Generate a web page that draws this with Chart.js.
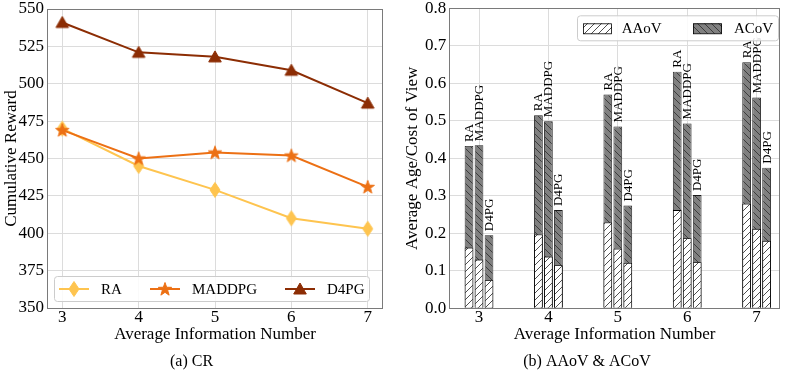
<!DOCTYPE html>
<html><head><meta charset="utf-8">
<script src="https://cdn.jsdelivr.net/npm/chart.js@4/dist/chart.umd.min.js"></script>
<style>
html,body{margin:0;padding:0;background:#fff;width:789px;height:373px;overflow:hidden}
canvas{position:absolute;top:0}
#c1{left:0}
#c2{left:394px}
</style></head><body>
<canvas id="c1" width="394" height="373"></canvas>
<canvas id="c2" width="395" height="373"></canvas>
<script>
// ---------- data ----------
const infoNumbers = [3, 4, 5, 6, 7];
const methods = ['RA', 'MADDPG', 'D4PG'];

const rewardRA     = [470, 445, 429, 410, 403];
const rewardMADDPG = [469, 450, 454, 452, 431];
const rewardD4PG   = [541, 521, 518, 509, 487];

const aaovRA     = [0.162, 0.197, 0.229, 0.262, 0.279];
const aaovMADDPG = [0.130, 0.138, 0.159, 0.187, 0.212];
const aaovD4PG   = [0.075, 0.115, 0.121, 0.123, 0.180];

const acovRA     = [0.433, 0.515, 0.570, 0.631, 0.656];
const acovMADDPG = [0.435, 0.499, 0.485, 0.493, 0.562];
const acovD4PG   = [0.195, 0.262, 0.274, 0.302, 0.375];

const rewardTicks = [350, 375, 400, 425, 450, 475, 500, 525, 550];
const ratioTicks  = [0.0, 0.1, 0.2, 0.3, 0.4, 0.5, 0.6, 0.7, 0.8];

// ---------- styles ----------
const FONT = "'Liberation Serif', 'DejaVu Serif', serif";
Chart.defaults.font.family = FONT;
Chart.defaults.color = '#000';
const F = (size) => ({ family: FONT, size: size, weight: 'normal' });
const lineColors = { RA: '#fec44f', MADDPG: '#ec7014', D4PG: '#8c2d04' };
const GRID = '#dcdcdc';
const SPINE = '#7a7a7a';

function makeMarker(shape, color) {
  const c = document.createElement('canvas');
  const s = 18; c.width = s; c.height = s;
  const g = c.getContext('2d');
  g.fillStyle = color; g.strokeStyle = color; g.lineWidth = 1;
  const cx = s / 2, cy = s / 2;
  g.beginPath();
  if (shape === 'diamond') {
    g.moveTo(cx, cy - 7.5); g.lineTo(cx + 5, cy); g.lineTo(cx, cy + 7.5); g.lineTo(cx - 5, cy);
  } else if (shape === 'star') {
    for (let k = 0; k < 10; k++) {
      const r = k % 2 === 0 ? 7 : 2.8;
      const ang = -Math.PI / 2 + k * Math.PI / 5;
      const px = cx + r * Math.cos(ang), py = cy + 0.5 + r * Math.sin(ang);
      k === 0 ? g.moveTo(px, py) : g.lineTo(px, py);
    }
  } else {
    g.moveTo(cx, cy - 6); g.lineTo(cx + 6.3, cy + 5); g.lineTo(cx - 6.3, cy + 5);
  }
  g.closePath(); g.fill(); g.stroke();
  return c;
}
const markers = {
  RA: makeMarker('diamond', lineColors.RA),
  MADDPG: makeMarker('star', lineColors.MADDPG),
  D4PG: makeMarker('triangle', lineColors.D4PG)
};

function hatch(bg, lineColor, dir, size, lw) {
  const c = document.createElement('canvas'); c.width = size; c.height = size;
  const g = c.getContext('2d');
  g.fillStyle = bg; g.fillRect(0, 0, size, size);
  g.strokeStyle = lineColor; g.lineWidth = lw;
  g.beginPath();
  if (dir === '/') {
    g.moveTo(-1, size + 1); g.lineTo(size + 1, -1);
    g.moveTo(-2, 2); g.lineTo(2, -2);
    g.moveTo(size - 2, size + 2); g.lineTo(size + 2, size - 2);
  } else {
    g.moveTo(-1, -1); g.lineTo(size + 1, size + 1);
    g.moveTo(size - 2, -2); g.lineTo(size + 2, 2);
    g.moveTo(-2, size - 2); g.lineTo(2, size + 2);
  }
  g.stroke();
  return g.createPattern(c, 'repeat');
}
const aaovFill = hatch('#ffffff', '#222222', '/', 7, 0.8);
const acovFill = hatch('#808080', '#2b2b2b', '\\', 7, 0.8);

const framePlugin = {
  id: 'frame',
  afterDraw(chart) {
    const { ctx, chartArea: a } = chart;
    ctx.save();
    ctx.strokeStyle = SPINE; ctx.lineWidth = 1;
    ctx.strokeRect(Math.round(a.left) + 0.5, Math.round(a.top) + 0.5,
      Math.round(a.right - a.left) - 1, Math.round(a.bottom - a.top));
    ctx.restore();
  }
};

function roundBox(ctx, x, y, w, h, r) {
  ctx.beginPath();
  ctx.moveTo(x + r, y); ctx.lineTo(x + w - r, y); ctx.quadraticCurveTo(x + w, y, x + w, y + r);
  ctx.lineTo(x + w, y + h - r); ctx.quadraticCurveTo(x + w, y + h, x + w - r, y + h);
  ctx.lineTo(x + r, y + h); ctx.quadraticCurveTo(x, y + h, x, y + h - r);
  ctx.lineTo(x, y + r); ctx.quadraticCurveTo(x, y, x + r, y);
  ctx.closePath();
}

const legendLeft = {
  id: 'legendLeft',
  afterDraw(chart) {
    const { ctx, chartArea: a } = chart;
    const x0 = a.left + 7, y0 = a.bottom - 32, w = 315, h = 25;
    ctx.save();
    roundBox(ctx, x0 + 0.5, y0 + 0.5, w, h, 3);
    ctx.fillStyle = 'rgba(255,255,255,0.85)'; ctx.fill();
    ctx.strokeStyle = '#cccccc'; ctx.lineWidth = 1; ctx.stroke();
    const cy = y0 + h / 2 + 0.5;
    const offs = [5, 96, 231];
    chart.data.datasets.forEach((ds, i) => {
      const lx = x0 + offs[i];
      ctx.strokeStyle = ds.borderColor; ctx.lineWidth = 2;
      ctx.beginPath(); ctx.moveTo(lx, cy); ctx.lineTo(lx + 30, cy); ctx.stroke();
      const m = ds.pointStyle;
      ctx.drawImage(m, lx + 15 - m.width / 2, cy - m.height / 2);
      ctx.fillStyle = '#000'; ctx.font = '15px ' + FONT;
      ctx.textAlign = 'left'; ctx.textBaseline = 'middle';
      ctx.fillText(ds.label, lx + 42, cy + 1);
    });
    ctx.restore();
  }
};

const legendRight = {
  id: 'legendRight',
  afterDraw(chart) {
    const { ctx, chartArea: a } = chart;
    const x0 = a.right - 203, y0 = a.top + 7, w = 201, h = 25;
    ctx.save();
    roundBox(ctx, x0 + 0.5, y0 + 0.5, w, h, 3);
    ctx.fillStyle = 'rgba(255,255,255,0.85)'; ctx.fill();
    ctx.strokeStyle = '#cccccc'; ctx.lineWidth = 1; ctx.stroke();
    const cy = y0 + h / 2 + 0.5;
    const items = [['AAoV', aaovFill, 6, 44.7], ['ACoV', acovFill, 116, 157]];
    items.forEach(([name, fill, px, tx]) => {
      ctx.fillStyle = fill;
      ctx.fillRect(x0 + px, cy - 5, 29, 10.5);
      ctx.strokeStyle = '#000'; ctx.lineWidth = 0.8;
      ctx.strokeRect(x0 + px + 0.5, cy - 5 + 0.5, 28, 10);
      ctx.fillStyle = '#000'; ctx.font = '15px ' + FONT;
      ctx.textAlign = 'left'; ctx.textBaseline = 'middle';
      ctx.fillText(name, x0 + tx, cy + 1);
    });
    ctx.restore();
  }
};

const barLabels = {
  id: 'barLabels',
  afterDatasetsDraw(chart) {
    const { ctx, chartArea: a } = chart;
    ctx.save();
    ctx.beginPath(); ctx.rect(a.left, a.top, a.right - a.left, a.bottom - a.top); ctx.clip();
    ctx.fillStyle = '#000'; ctx.font = '13px ' + FONT;
    chart.data.datasets.forEach((ds, i) => {
      if (ds.kind !== 'ACoV') return;
      chart.getDatasetMeta(i).data.forEach(el => {
        ctx.save();
        ctx.translate(el.x, el.y - 4);
        ctx.rotate(-Math.PI / 2);
        ctx.textAlign = 'left'; ctx.textBaseline = 'middle';
        ctx.fillText(ds.stack, 0, 0.5);
        ctx.restore();
      });
    });
    ctx.restore();
  }
};

function pts(ys) { return infoNumbers.map((x, i) => ({ x, y: ys[i] })); }

// ---------- left: Cumulative Reward ----------
const rewards = { RA: rewardRA, MADDPG: rewardMADDPG, D4PG: rewardD4PG };
new Chart(document.getElementById('c1'), {
  type: 'line',
  data: {
    datasets: methods.map((m, i) => ({
      label: m,
      data: pts(rewards[m]),
      borderColor: lineColors[m],
      backgroundColor: lineColors[m],
      borderWidth: 2,
      pointStyle: markers[m],
      pointRadius: 7,
      tension: 0,
      order: 2 - i
    }))
  },
  options: {
    responsive: false, animation: false, devicePixelRatio: 1,
    font: { family: FONT },
    layout: { padding: { top: 7.5, right: 11, left: 0, bottom: 0 } },
    plugins: {
      legend: { display: false }, tooltip: { enabled: false },
      title: { display: true, position: 'bottom', text: '(a) CR', color: '#000',
        font: F(16), padding: { top: 0, bottom: 2 } }
    },
    scales: {
      x: {
        type: 'linear', min: 2.8, max: 7.2, offset: false,
        afterBuildTicks: s => { s.ticks = infoNumbers.map(v => ({ value: v })); },
        afterFit: s => { s.height = 43.8; s.paddingLeft = 0; s.paddingRight = 0; },
        ticks: { font: F(17), padding: -1, color: '#000' },
        grid: { color: GRID, drawTicks: false, offset: false },
        border: { display: false },
        title: { display: true, text: 'Average Information Number', color: '#000',
          font: F(17), padding: { top: 0, bottom: 6.8 } }
      },
      y: {
        min: 350, max: 550,
        afterBuildTicks: s => { s.ticks = rewardTicks.map(v => ({ value: v })); },
        afterFit: s => { s.width = 47; s.paddingTop = 0; s.paddingBottom = 0; },
        ticks: { font: F(17), padding: 3, color: '#000' },
        grid: { color: GRID, drawTicks: false },
        border: { display: false },
        title: { display: true, text: 'Cumulative Reward', color: '#000',
          font: F(17), padding: { top: 1, bottom: 0 } }
      }
    }
  },
  plugins: [framePlugin, legendLeft]
});

// ---------- right: AAoV & ACoV ----------
const aaov = { RA: aaovRA, MADDPG: aaovMADDPG, D4PG: aaovD4PG };
const acov = { RA: acovRA, MADDPG: acovMADDPG, D4PG: acovD4PG };
const barSets = [];
methods.forEach(m => {
  barSets.push({ label: 'AAoV', kind: 'AAoV', stack: m, data: pts(aaov[m]),
    backgroundColor: aaovFill, borderColor: '#000', borderWidth: 0.9 });
  barSets.push({ label: 'ACoV', kind: 'ACoV', stack: m, data: pts(acov[m]),
    backgroundColor: acovFill, borderColor: '#1a1a1a', borderWidth: 0.9 });
});

new Chart(document.getElementById('c2'), {
  type: 'bar',
  data: { datasets: barSets },
  options: {
    responsive: false, animation: false, devicePixelRatio: 1,
    font: { family: FONT },
    categoryPercentage: 0.432, barPercentage: 0.87,
    layout: { padding: { top: 8.3, right: 9, left: 0, bottom: 0 } },
    plugins: {
      legend: { display: false }, tooltip: { enabled: false },
      title: { display: true, position: 'bottom', text: '(b) AAoV & ACoV', color: '#000',
        font: F(16), padding: { top: 0, bottom: 2 } }
    },
    scales: {
      x: {
        type: 'linear', min: 2.572, max: 7.337, offset: false,
        afterBuildTicks: s => { s.ticks = infoNumbers.map(v => ({ value: v })); },
        afterFit: s => { s.height = 43.5; s.paddingLeft = 0; s.paddingRight = 0; },
        ticks: { font: F(17), padding: -1, color: '#000' },
        grid: { color: GRID, drawTicks: false, offset: false },
        border: { display: false },
        title: { display: true, text: 'Average Information Number', color: '#000',
          font: F(17), padding: { top: 0, bottom: 6.8 } }
      },
      y: {
        min: 0, max: 0.8, stacked: false,
        afterBuildTicks: s => { s.ticks = ratioTicks.map(v => ({ value: v })); },
        afterFit: s => { s.width = 55.3; s.paddingTop = 0; s.paddingBottom = 0; },
        ticks: { font: F(17), padding: 3, color: '#000', callback: v => Number(v).toFixed(1) },
        grid: { color: GRID, drawTicks: false },
        border: { display: false },
        title: { display: true, text: 'Average Age/Cost of View', color: '#000',
          font: F(17), padding: { top: 8.8, bottom: 0 } }
      }
    }
  },
  plugins: [framePlugin, barLabels, legendRight]
});
</script>
</body></html>
